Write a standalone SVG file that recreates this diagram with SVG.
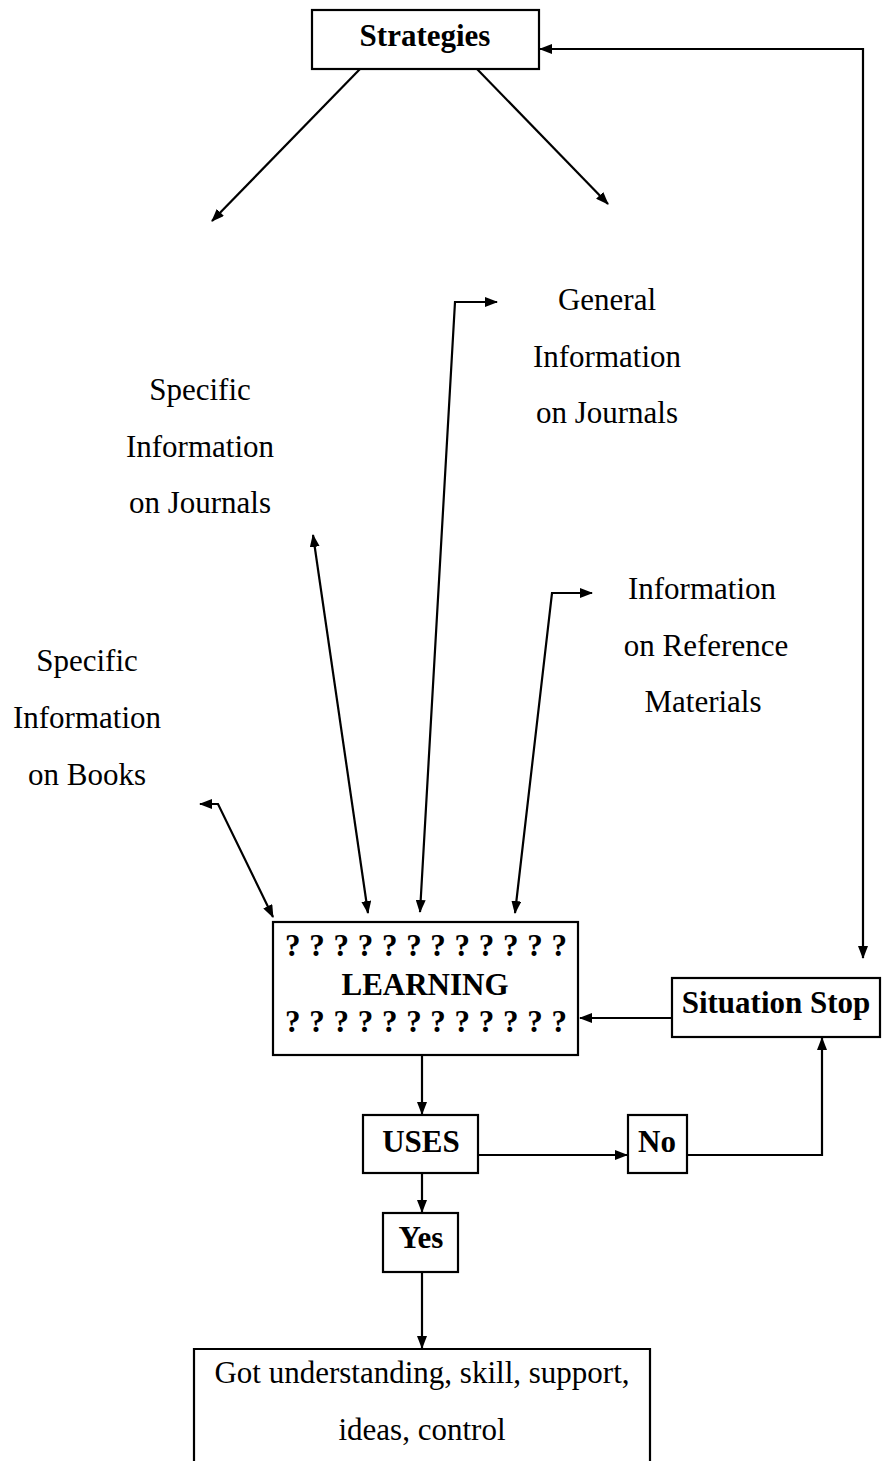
<svg xmlns="http://www.w3.org/2000/svg" width="883" height="1461" viewBox="0 0 883 1461">
  <style>
    .box { fill: #fff; stroke: #000; stroke-width: 2.2; }
    .bold { font-family: "Liberation Serif", "Times New Roman", serif; font-weight: bold; font-size: 31px; fill: #000; text-anchor: middle; }
    .label { font-family: "Liberation Serif", "Times New Roman", serif; font-size: 31px; fill: #000; text-anchor: middle; }
    .edge { fill: none; stroke: #000; stroke-width: 2.2; }
  </style>
  <defs>
    <marker id="arrow" viewBox="0 0 13 10" refX="12" refY="5" markerWidth="13" markerHeight="10" orient="auto-start-reverse" markerUnits="userSpaceOnUse">
      <path d="M0,0 L13,5 L0,10 z" fill="#000"/>
    </marker>
  </defs>
  <rect width="883" height="1461" fill="#fff"/>

  <!-- connectors -->
  <g id="connectors" class="edge">
    <!-- Strategies fan-out -->
    <line x1="360" y1="69" x2="212" y2="221" marker-end="url(#arrow)"/>
    <line x1="477" y1="69" x2="608" y2="204" marker-end="url(#arrow)"/>
    <!-- feedback loop: down to Situation Stop and back to Strategies -->
    <polyline points="863,958 863,49 540,49" marker-start="url(#arrow)" marker-end="url(#arrow)"/>
    <!-- information sources to LEARNING -->
    <polyline points="200,804 218,804 273,917" marker-start="url(#arrow)" marker-end="url(#arrow)"/>
    <line x1="313" y1="535" x2="368" y2="913" marker-start="url(#arrow)" marker-end="url(#arrow)"/>
    <polyline points="497,302 455,302 420,912" marker-start="url(#arrow)" marker-end="url(#arrow)"/>
    <polyline points="592,593 552,593 515,913" marker-start="url(#arrow)" marker-end="url(#arrow)"/>
    <!-- Situation Stop back to LEARNING -->
    <line x1="672" y1="1018" x2="580" y2="1018" marker-end="url(#arrow)"/>
    <!-- LEARNING to USES -->
    <line x1="422" y1="1055" x2="422" y2="1114" marker-end="url(#arrow)"/>
    <!-- USES to No -->
    <line x1="478" y1="1155" x2="627" y2="1155" marker-end="url(#arrow)"/>
    <!-- No to Situation Stop -->
    <polyline points="687,1155 822,1155 822,1038" marker-end="url(#arrow)"/>
    <!-- USES to Yes -->
    <line x1="422" y1="1173" x2="422" y2="1212" marker-end="url(#arrow)"/>
    <!-- Yes to outcome -->
    <line x1="422" y1="1272" x2="422" y2="1348" marker-end="url(#arrow)"/>
  </g>

  <g id="strategies">
    <rect class="box" x="312" y="10" width="227" height="59"/>
    <text class="bold" x="425" y="46">Strategies</text>
  </g>

  <g id="general-info-journals">
    <text class="label" x="607" y="310">General</text>
    <text class="label" x="607" y="367">Information</text>
    <text class="label" x="607" y="423">on Journals</text>
  </g>

  <g id="specific-info-journals">
    <text class="label" x="200" y="400">Specific</text>
    <text class="label" x="200" y="457">Information</text>
    <text class="label" x="200" y="513">on Journals</text>
  </g>

  <g id="info-reference-materials">
    <text class="label" x="702" y="599">Information</text>
    <text class="label" x="706" y="656">on Reference</text>
    <text class="label" x="703" y="712">Materials</text>
  </g>

  <g id="specific-info-books">
    <text class="label" x="87" y="671">Specific</text>
    <text class="label" x="87" y="728">Information</text>
    <text class="label" x="87" y="785">on Books</text>
  </g>

  <g id="learning">
    <rect class="box" x="273" y="922" width="305" height="133"/>
    <text class="bold" x="426" y="956" textLength="282" lengthAdjust="spacing">? ? ? ? ? ? ? ? ? ? ? ?</text>
    <text class="bold" x="425" y="995">LEARNING</text>
    <text class="bold" x="426" y="1032" textLength="282" lengthAdjust="spacing">? ? ? ? ? ? ? ? ? ? ? ?</text>
  </g>

  <g id="situation-stop">
    <rect class="box" x="672" y="978" width="208" height="59"/>
    <text class="bold" x="776" y="1013">Situation Stop</text>
  </g>

  <g id="uses">
    <rect class="box" x="363" y="1115" width="115" height="58"/>
    <text class="bold" x="421" y="1152">USES</text>
  </g>

  <g id="no">
    <rect class="box" x="628" y="1115" width="59" height="58"/>
    <text class="bold" x="657" y="1152">No</text>
  </g>

  <g id="yes">
    <rect class="box" x="383" y="1213" width="75" height="59"/>
    <text class="bold" x="421" y="1248">Yes</text>
  </g>

  <g id="outcome">
    <path class="edge" d="M194,1461 V1349 H650 V1461"/>
    <text class="label" x="422" y="1383">Got understanding, skill, support,</text>
    <text class="label" x="422" y="1440">ideas, control</text>
  </g>
</svg>
